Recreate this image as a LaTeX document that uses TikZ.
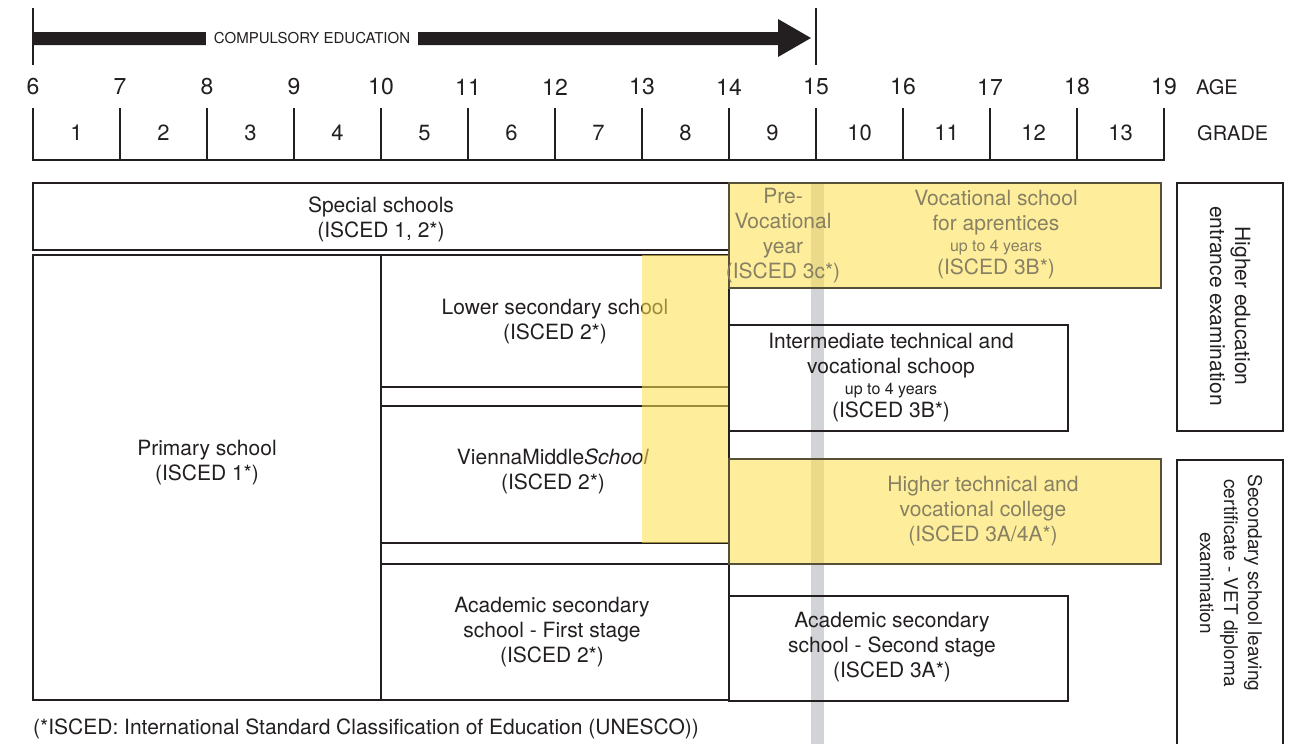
\documentclass[tikz,border=0pt]{standalone}
\usepackage{fontspec}
\setmainfont{TeX Gyre Heros}
\definecolor{ink}{RGB}{35,31,32}
\definecolor{dimink}{RGB}{135,128,98}
\definecolor{paleyellow}{RGB}{253,224,78}
\definecolor{barGray}{RGB}{210,211,214}
\definecolor{olive}{RGB}{85,80,55}
\tikzset{
  schoolbox/.style={draw=ink, line width=2.4pt},
  yellowbox/.style={draw=olive, line width=2.4pt},
  txt/.style={font=\fontsize{21}{25}\selectfont, text=ink, align=center, inner sep=0pt},
  dimtxt/.style={txt, text=dimink},
  examtxt/.style={txt, font=\fontsize{19}{24}\selectfont},
  agenum/.style={font=\fontsize{23}{26}\selectfont, text=ink, inner sep=0pt},
  gradenum/.style={font=\fontsize{22}{26}\selectfont, text=ink, inner sep=0pt},
  headtxt/.style={font=\fontsize{20}{24}\selectfont, text=ink, inner sep=0pt}
}
\begin{document}
\begin{tikzpicture}[x=1pt,y=-1pt]
  \useasboundingbox (0,0) rectangle (1291,744);
  % grey line at age 15
  \fill[barGray] (811,183) rectangle (824,744);

  % compulsory education
  \draw[ink, line width=2pt] (33,8) -- (33,65);
  \draw[ink, line width=2pt] (816,8) -- (816,65);
  \fill[ink] (33,32) -- (778,32) -- (778,19) -- (811,38) -- (778,57) -- (778,45) -- (33,45) -- cycle;
  \node[fill=white, font=\fontsize{15}{18}\selectfont, text=ink, inner xsep=8pt, inner ysep=6pt] (compulsory) at (312,38) {COMPULSORY EDUCATION};

  % age and grade scale
  \foreach \a [count=\i from 0] in {6,...,19}
    \node[agenum] (age\a) at ({33+87*\i},87) {\a};
  \foreach \i in {0,...,13}
    \draw[ink, line width=2.2pt] ({33+87*\i},108) -- ({33+87*\i},160);
  \draw[ink, line width=2.4pt] (32,160) -- (1165,160);
  \foreach \g in {1,...,13}
    \node[gradenum] (grade\g) at ({33+87*(\g-0.5)},133) {\g};
  \node[headtxt, anchor=west] (agehead) at (1196,87) {AGE};
  \node[headtxt, anchor=west] (gradehead) at (1197,133) {GRADE};

  % left column
  \draw[schoolbox] (33,183) rectangle (729,250);
  \node[txt] (special) at (381,219.5) {Special schools\\(ISCED 1, 2*)};
  \draw[schoolbox] (33,255) rectangle (381,700);
  \node[txt] (primary) at (207,463) {Primary school\\(ISCED 1*)};
  \draw[schoolbox] (381,255) rectangle (729,387);
  \node[txt] (lowersec) at (555,322) {Lower secondary school\\(ISCED 2*)};
  \draw[schoolbox] (381,387) rectangle (729,406);
  \draw[schoolbox] (381,406) rectangle (729,543);
  \node[txt] (vienna) at (553,471.5) {ViennaMiddle\textit{School}\\(ISCED 2*)};
  \draw[schoolbox] (381,543) rectangle (729,564);
  \draw[schoolbox] (381,564) rectangle (729,700);
  \node[txt] (acadfirst) at (552,632) {Academic secondary\\school - First stage\\(ISCED 2*)};

  % right column
  \draw[schoolbox] (729,325) rectangle (1068,431);
  \node[txt] (intermediate) at (891,378) {Intermediate technical and\\vocational schoop\\[-4pt]{\fontsize{16}{19}\selectfont up to 4 years}\\[-2pt](ISCED 3B*)};
  \draw[schoolbox] (729,596) rectangle (1068,701);
  \node[txt] (acadsecond) at (892,647) {Academic secondary\\school - Second stage\\(ISCED 3A*)};

  % examinations
  \draw[schoolbox] (1177,183) rectangle (1283,431);
  \node[txt, rotate=-90] (entrance) at (1230,306) {Higher education\\entrance examination};
  \draw[schoolbox] (1177,744) -- (1177,460) -- (1283,460) -- (1283,744);
  \node[examtxt, rotate=-90] (leaving) at (1231,583) {Secondary school leaving\\certificate - VET diploma\\examination};

  % yellow overlays
  \fill[paleyellow, fill opacity=0.56] (642,255) rectangle (728,543);
  \fill[paleyellow, fill opacity=0.56] (729,183) rectangle (1161,288);
  \draw[yellowbox] (729,183) rectangle (1161,288);
  \node[dimtxt] (prevoc) at (783,236) {Pre-\\Vocational\\year\\(ISCED 3c*)};
  \node[dimtxt] (vocschool) at (996,235) {Vocational school\\for aprentices\\[-4pt]{\fontsize{16}{19}\selectfont up to 4 years}\\[-2pt](ISCED 3B*)};
  \fill[paleyellow, fill opacity=0.56] (729,459) rectangle (1161,564);
  \draw[yellowbox] (729,459) rectangle (1161,564);
  \node[dimtxt] (highertech) at (983,511) {Higher technical and\\vocational college\\(ISCED 3A/4A*)};

  \node[txt, anchor=west] (footnote) at (33,729) {(*ISCED: International Standard Classification of Education (UNESCO))};
\end{tikzpicture}
\end{document}
